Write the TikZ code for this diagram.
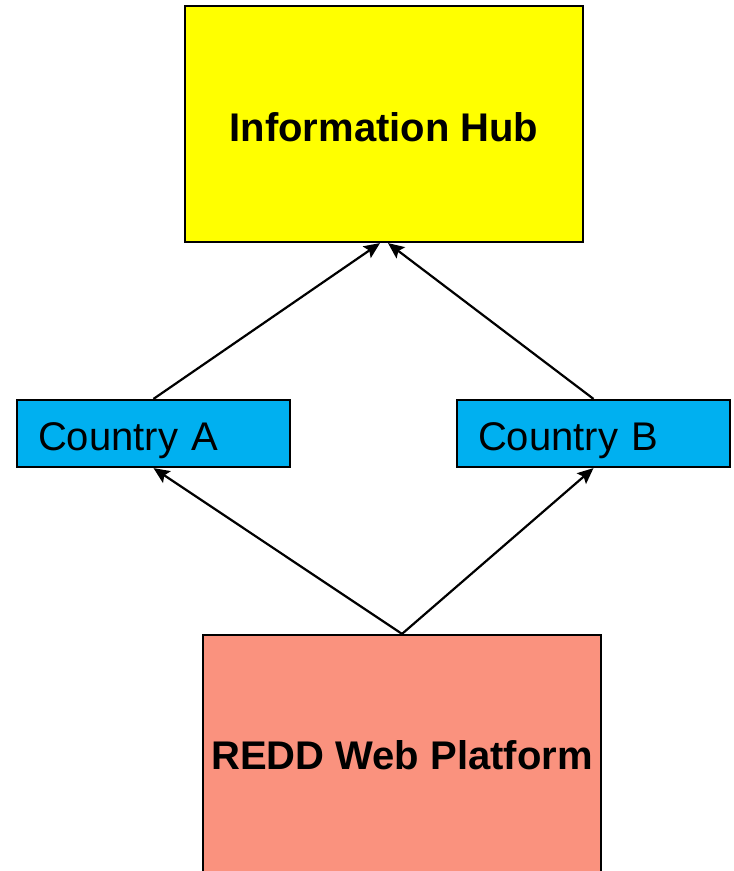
\documentclass[tikz,border=0pt]{standalone}
\usepackage{fontspec}
\setmainfont{Liberation Sans}
\usetikzlibrary{arrows.meta}
\definecolor{hubyellow}{RGB}{255,255,0}
\definecolor{countryblue}{RGB}{0,176,240}
\definecolor{reddsalmon}{RGB}{250,146,126}
\begin{document}
\begin{tikzpicture}[x=1pt, y=-1pt,
    box/.style={draw=black, line width=2.2pt, text depth=0pt, font=\fontsize{40}{48}\selectfont},
    bigbox/.style={box, minimum width=398pt, font=\fontsize{40}{48}\selectfont\bfseries},
    country/.style={box, fill=countryblue, text width=231pt, align=left, inner xsep=21pt, inner ysep=0pt, minimum height=67pt, text height=33pt},
    link/.style={line width=2.2pt, -{Stealth[length=16pt,width=14pt,inset=3pt]}}]
\useasboundingbox (0,0) rectangle (734,871);
\clip (0,0) rectangle (734,871);
\node[bigbox, fill=hubyellow, minimum height=236pt, text height=34pt] (hub) at (384,124){Information Hub};
\node[country] (ctya) at (153.5,433.5){Country A};
\node[country] (ctyb) at (593.5,433.5){Country B};
\node[bigbox, fill=reddsalmon, minimum height=244pt, text height=24pt] (redd) at (402,757){REDD Web Platform};
\draw[link](ctya.north) -- ([xshift=-4pt]hub.south);
\draw[link](ctyb.north) -- ([xshift=4pt]hub.south);
\draw[link](redd.north) -- (ctya.south);
\draw[link](redd.north) -- (ctyb.south);
\end{tikzpicture}
\end{document}
